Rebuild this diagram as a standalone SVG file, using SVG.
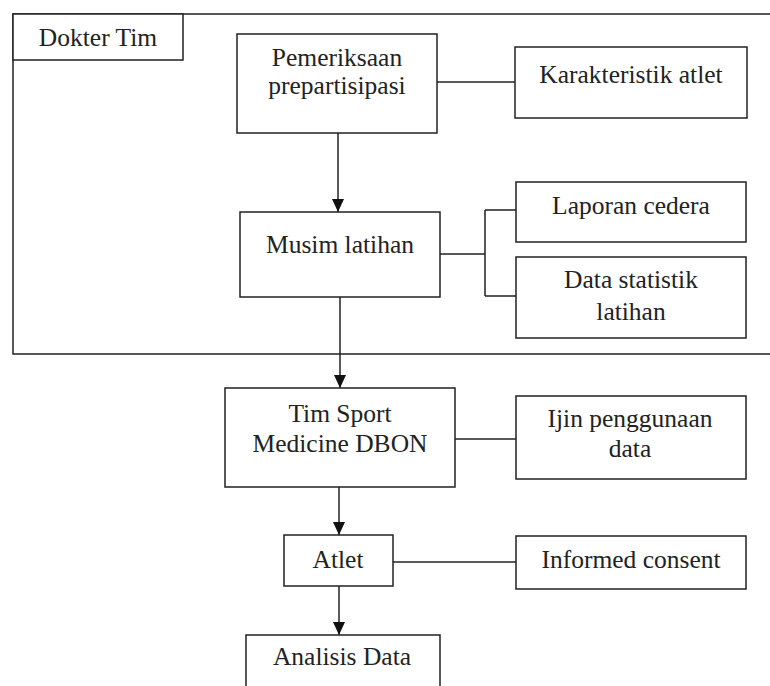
<svg xmlns="http://www.w3.org/2000/svg" width="770" height="686" viewBox="0 0 770 686">
<style>
.box{fill:#fff;stroke:#222;stroke-width:1.5}
.ln{fill:none;stroke:#222;stroke-width:1.5}
text{font-family:"Liberation Serif","Times New Roman",serif;font-size:25.5px;fill:#222;text-anchor:middle}
</style>
<defs>
<marker id="arr" markerUnits="userSpaceOnUse" markerWidth="12" markerHeight="14" refX="6" refY="13" orient="auto-start-reverse" viewBox="0 0 12 14">
<path d="M0,0 L12,0 L6,13 Z" fill="#111" transform="rotate(-90 6 6.5) translate(0,0)"/>
</marker>
<marker id="arrd" markerUnits="userSpaceOnUse" markerWidth="12" markerHeight="13" refX="6" refY="13" orient="0" viewBox="0 0 12 13">
<path d="M0,0 L12,0 L6,13 Z" fill="#111"/>
</marker>
</defs>
<g id="frame">
<path class="ln" d="M772 14 H13 V354 H772"/>
</g>
<g id="dokter-tim">
<rect class="box" x="13" y="14" width="170" height="46"/>
<text x="98" y="46">Dokter Tim</text>
</g>
<g id="connectors">
<line class="ln" x1="338" y1="133" x2="338" y2="212" marker-end="url(#arrd)"/>
<line class="ln" x1="437" y1="82" x2="515" y2="82"/>
<path class="ln" d="M440 254 H485 M485 210 V296 M485 210 H516 M485 296 H516"/>
<line class="ln" x1="340" y1="297" x2="340" y2="388" marker-end="url(#arrd)"/>
<line class="ln" x1="455" y1="439" x2="516" y2="439"/>
<line class="ln" x1="339" y1="487" x2="339" y2="535" marker-end="url(#arrd)"/>
<line class="ln" x1="393" y1="562" x2="516" y2="562"/>
<line class="ln" x1="339" y1="586" x2="339" y2="635" marker-end="url(#arrd)"/>
</g>
<g id="pemeriksaan">
<rect class="box" x="237" y="34" width="200" height="99"/>
<text x="337" y="66">Pemeriksaan</text>
<text x="337" y="94">prepartisipasi</text>
</g>
<g id="karakteristik">
<rect class="box" x="515" y="47" width="232" height="71"/>
<text x="631" y="83">Karakteristik atlet</text>
</g>
<g id="musim">
<rect class="box" x="240" y="212" width="200" height="85"/>
<text x="340" y="253">Musim latihan</text>
</g>
<g id="laporan">
<rect class="box" x="516" y="182" width="230" height="60"/>
<text x="631" y="214">Laporan cedera</text>
</g>
<g id="data-statistik">
<rect class="box" x="516" y="257" width="230" height="81"/>
<text x="631" y="288">Data statistik</text>
<text x="631" y="320">latihan</text>
</g>
<g id="tim-sport">
<rect class="box" x="225" y="388" width="230" height="99"/>
<text x="340" y="422">Tim Sport</text>
<text x="340" y="452">Medicine DBON</text>
</g>
<g id="ijin">
<rect class="box" x="516" y="396" width="230" height="83"/>
<text x="630" y="427">Ijin penggunaan</text>
<text x="630" y="457">data</text>
</g>
<g id="atlet">
<rect class="box" x="284" y="535" width="109" height="51"/>
<text x="338" y="568">Atlet</text>
</g>
<g id="informed">
<rect class="box" x="516" y="536" width="230" height="53"/>
<text x="631" y="568">Informed consent</text>
</g>
<g id="analisis">
<rect class="box" x="246" y="635" width="194" height="70"/>
<text x="342" y="665">Analisis Data</text>
</g>
</svg>
